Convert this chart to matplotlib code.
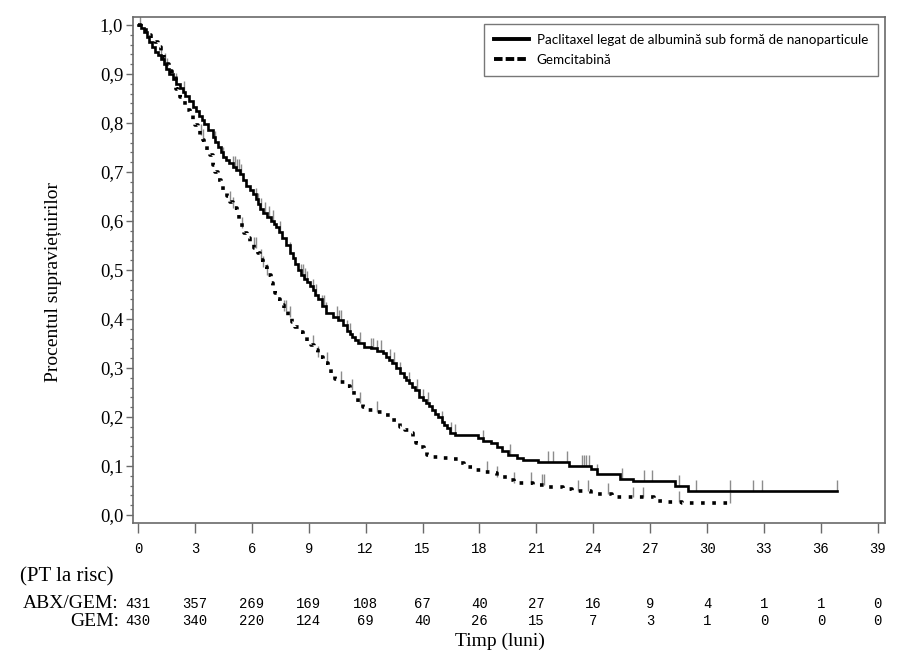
import numpy as np
import matplotlib
matplotlib.use("Agg")
import matplotlib.pyplot as plt
from matplotlib.lines import Line2D
from matplotlib.ticker import MultipleLocator, FixedLocator
import matplotlib.transforms as mtransforms

# ---------------- data ----------------
abx_t = [0, 0.15, 0.3, 0.45, 0.6, 0.75, 0.9, 1.05, 1.2, 1.35, 1.5, 1.65, 1.85, 2.0, 2.2, 2.35,
         2.5, 2.7, 2.9, 3.05, 3.2, 3.35, 3.5, 3.7, 3.95, 4.05, 4.2, 4.35, 4.5, 4.65, 4.8, 5.0,
         5.17, 5.4, 5.55, 5.7, 5.9, 6.06, 6.2, 6.3, 6.45, 6.6, 6.8, 7.0, 7.15, 7.3, 7.45, 7.6,
         7.8, 8.0, 8.15, 8.3, 8.45, 8.6, 8.75, 8.9, 9.05, 9.2, 9.35, 9.5, 9.7, 9.9, 10.3,
         10.55, 10.8, 11.0, 11.15, 11.3, 11.45, 11.6, 11.9, 12.3, 12.6, 12.9, 13.1, 13.25,
         13.4, 13.6, 13.8, 14.0, 14.15, 14.3, 14.45, 14.6, 14.8, 15.0, 15.2, 15.35, 15.5,
         15.65, 15.8, 16.0, 16.15, 16.3, 16.45, 16.7, 17.9, 18.2, 18.6, 18.9, 19.2, 19.5,
         20.0, 20.3, 21.1, 22.7, 23.9, 24.2, 25.4, 26.1, 28.3, 29.0, 36.85]
abx_s = [1.0, 0.993, 0.985, 0.975, 0.965, 0.955, 0.945, 0.938, 0.93, 0.92, 0.91, 0.90, 0.89,
         0.88, 0.872, 0.863, 0.855, 0.844, 0.833, 0.824, 0.815, 0.806, 0.797, 0.785, 0.771,
         0.762, 0.752, 0.741, 0.73, 0.724, 0.718, 0.711, 0.705, 0.695, 0.683, 0.672, 0.663,
         0.655, 0.645, 0.635, 0.625, 0.616, 0.608, 0.60, 0.594, 0.588, 0.577, 0.565, 0.55,
         0.535, 0.524, 0.512, 0.50, 0.49, 0.482, 0.475, 0.467, 0.459, 0.45, 0.44, 0.426,
         0.412, 0.405, 0.397, 0.388, 0.375, 0.369, 0.363, 0.357, 0.352, 0.343, 0.34, 0.335,
         0.33, 0.322, 0.316, 0.31, 0.30, 0.29, 0.282, 0.275, 0.269, 0.262, 0.255, 0.241,
         0.235, 0.229, 0.222, 0.215, 0.207, 0.20, 0.19, 0.184, 0.178, 0.168, 0.163, 0.158,
         0.152, 0.146, 0.139, 0.13, 0.122, 0.116, 0.112, 0.108, 0.10, 0.093, 0.083, 0.073,
         0.069, 0.06, 0.049, 0.049]
abx_cens = [0.1, 1.2, 1.4, 1.55, 2.0, 2.4, 4.05, 4.5, 5.0, 5.1, 5.2, 5.3, 5.45, 6.2, 6.3, 6.5,
            6.7, 6.9, 7.1, 7.5, 8.0, 8.6, 8.7, 8.8, 8.9, 9.2, 9.4, 9.7, 9.8, 9.9, 10.5, 10.6,
            10.7, 11.0, 11.2, 11.7, 12.3, 12.4, 12.6, 12.8, 13.3, 13.5, 13.8, 14.3, 14.7, 15.0,
            15.3, 16.0, 16.5, 16.7, 18.2, 19.6, 21.6, 21.9, 22.6, 23.4, 23.5, 23.6, 23.8, 24.2,
            25.5, 26.7, 27.1, 28.5, 29.4, 31.2, 32.4, 32.9, 36.85]

gem_t = [0, 0.15, 0.3, 0.53, 0.7, 0.9, 1.05, 1.2, 1.35, 1.5, 1.65, 1.8, 2.0, 2.1, 2.2, 2.35,
         2.5, 2.6, 2.75, 2.9, 3.0, 3.15, 3.27, 3.4, 3.5, 3.65, 3.8, 3.95, 4.05, 4.2, 4.35, 4.5,
         4.7, 4.85, 5.0, 5.2, 5.3, 5.4, 5.5, 5.6, 5.75, 5.9, 6.1, 6.3, 6.45, 6.6, 6.8, 7.0,
         7.1, 7.2, 7.35, 7.5, 7.7, 7.9, 8.1, 8.3, 8.5, 8.7, 8.9, 9.1, 9.3, 9.5, 9.75, 10.0,
         10.2, 10.4, 10.6, 10.9, 11.2, 11.4, 11.6, 11.85, 12.1, 12.5, 12.9, 13.4, 13.6, 13.8,
         14.05, 14.3, 14.5, 14.65, 14.8, 15.1, 15.25, 15.4, 15.9, 16.4, 16.9, 17.2, 17.7,
         18.1, 18.6, 18.9, 19.5, 19.8, 20.8, 21.5, 22.4, 22.9, 23.9, 25.0, 27.2, 27.6, 28.7,
         31.2]
gem_s = [1.0, 0.995, 0.99, 0.98, 0.972, 0.965, 0.955, 0.945, 0.932, 0.92, 0.907, 0.895, 0.87,
         0.862, 0.853, 0.845, 0.837, 0.826, 0.816, 0.806, 0.796, 0.786, 0.776, 0.765, 0.755,
         0.745, 0.735, 0.714, 0.699, 0.684, 0.673, 0.663, 0.651, 0.639, 0.627, 0.614, 0.605,
         0.596, 0.586, 0.576, 0.566, 0.555, 0.545, 0.535, 0.52, 0.506, 0.49, 0.473, 0.463,
         0.453, 0.441, 0.429, 0.416, 0.404, 0.394, 0.384, 0.373, 0.363, 0.355, 0.346, 0.337,
         0.323, 0.31, 0.298, 0.286, 0.278, 0.271, 0.263, 0.255, 0.242, 0.229, 0.221, 0.214,
         0.21, 0.204, 0.194, 0.187, 0.18, 0.173, 0.167, 0.153, 0.146, 0.139, 0.129, 0.123,
         0.118, 0.116, 0.114, 0.106, 0.098, 0.092, 0.088, 0.086, 0.078, 0.071, 0.065, 0.061,
         0.058, 0.053, 0.049, 0.043, 0.036, 0.029, 0.026, 0.024, 0.024]
gem_cens = [3.3, 3.4, 4.85, 5.0, 5.5, 6.1, 6.2, 6.5, 6.6, 6.8, 7.7, 7.8, 8.0, 9.2, 9.5, 9.95,
            10.7, 11.3, 11.7, 12.6, 18.4, 18.9, 19.8, 20.7, 21.3, 21.4, 23.2, 23.7, 24.8, 26.1,
            26.6, 28.5, 31.2]

x_ticks = list(range(0, 40, 3))
y_ticks = [0.0, 0.1, 0.2, 0.3, 0.4, 0.5, 0.6, 0.7, 0.8, 0.9, 1.0]
y_ticklabels = ["0,0", "0,1", "0,2", "0,3", "0,4", "0,5", "0,6", "0,7", "0,8", "0,9", "1,0"]
risk_abx = [431, 357, 269, 169, 108, 67, 40, 27, 16, 9, 4, 1, 1, 0]
risk_gem = [430, 340, 220, 124, 69, 40, 26, 15, 7, 3, 1, 0, 0, 0]

legend_labels = ["Paclitaxel legat de albumină sub formă de nanoparticule", "Gemcitabină"]

# ---------------- styling ----------------
SERIF = ["Liberation Serif", "DejaVu Serif"]
MONO = ["Liberation Mono", "DejaVu Sans Mono"]
SANS = ["Lato", "DejaVu Sans"]
FRAME = "#6a6a6a"

fig = plt.figure(figsize=(9.2, 6.71), dpi=100)
ax = fig.add_axes([133 / 920, 1 - 523 / 671, 752 / 920, 506 / 671])

def surv_at(ts, ss, t):
    idx = np.searchsorted(np.asarray(ts), t, side="right") - 1
    return np.asarray(ss)[idx]

# curves
ax.plot(abx_t, abx_s, drawstyle="steps-post", color="black", lw=1.9,
        solid_joinstyle="miter", zorder=3)
ax.plot(gem_t, gem_s, drawstyle="steps-post", color="black", lw=2.6,
        linestyle=(0, (1, 2.1)), dash_capstyle="butt", zorder=3)

# censor marks
tick_h = 0.022
ca = np.array(abx_cens)
sa = surv_at(abx_t, abx_s, ca)
ax.vlines(ca, sa, sa + tick_h, color="#8c8c8c", lw=1.0, zorder=2)
cg = np.array(gem_cens)
sg = surv_at(gem_t, gem_s, cg)
ax.vlines(cg, sg, sg + tick_h, color="#8c8c8c", lw=1.0, zorder=2)

# axes limits and ticks
ax.set_xlim(-0.264, 39.38)
ax.set_ylim(-0.0163, 1.0163)
ax.xaxis.set_major_locator(FixedLocator(x_ticks))
ax.set_xticklabels([str(v) for v in x_ticks], fontfamily=MONO, fontsize=10)
ax.yaxis.set_major_locator(FixedLocator(y_ticks))
ax.set_yticklabels(y_ticklabels, fontfamily=SERIF, fontsize=13.5)
ax.yaxis.set_minor_locator(MultipleLocator(0.02))
ax.tick_params(axis="x", which="major", direction="out", length=7, width=1.0,
               color=FRAME, pad=7)
ax.tick_params(axis="y", which="major", direction="out", length=5, width=1.0,
               color=FRAME, pad=2)
ax.tick_params(axis="y", which="minor", direction="out", length=2.5, width=0.9,
               color=FRAME)
for sp in ax.spines.values():
    sp.set_color(FRAME)
    sp.set_linewidth(1.2)

# axis labels
ax.set_ylabel("Procentul supraviețuirilor", fontfamily=SERIF, fontsize=14)
ax.yaxis.set_label_coords(-0.095, 0.476)
ax.set_xlabel("Timp (luni)", fontfamily=SERIF, fontsize=14)
ax.xaxis.set_label_coords(0.488, -0.217)

# at-risk table
blend = mtransforms.blended_transform_factory(ax.transData, ax.transAxes)
for xv, a, g in zip(x_ticks, risk_abx, risk_gem):
    ax.text(xv, -0.160, str(a), transform=blend, ha="center", va="center",
            fontfamily=MONO, fontsize=10, clip_on=False)
    ax.text(xv, -0.194, str(g), transform=blend, ha="center", va="center",
            fontfamily=MONO, fontsize=10, clip_on=False)
ax.text(-0.150, -0.107, "(PT la risc)", transform=ax.transAxes, ha="left", va="center",
        fontfamily=SERIF, fontsize=15)
ax.text(-0.0186, -0.160, "ABX/GEM:", transform=ax.transAxes, ha="right", va="center",
        fontfamily=SERIF, fontsize=14)
ax.text(-0.0186, -0.194, "GEM:", transform=ax.transAxes, ha="right", va="center",
        fontfamily=SERIF, fontsize=14)

# legend
handles = [Line2D([], [], color="black", lw=2.8),
           Line2D([], [], color="black", lw=2.8, linestyle=(0, (2.2, 0.8)))]
leg = ax.legend(handles, legend_labels, loc="upper right", bbox_to_anchor=(0.991, 0.986),
                borderaxespad=0, fancybox=False, frameon=True, edgecolor="#555555",
                prop={"family": SANS, "size": 9.7}, handlelength=2.6, handletextpad=0.6,
                labelspacing=0.55, borderpad=0.75)
leg.get_frame().set_linewidth(1.0)

fig.savefig("out.png", dpi=100)
